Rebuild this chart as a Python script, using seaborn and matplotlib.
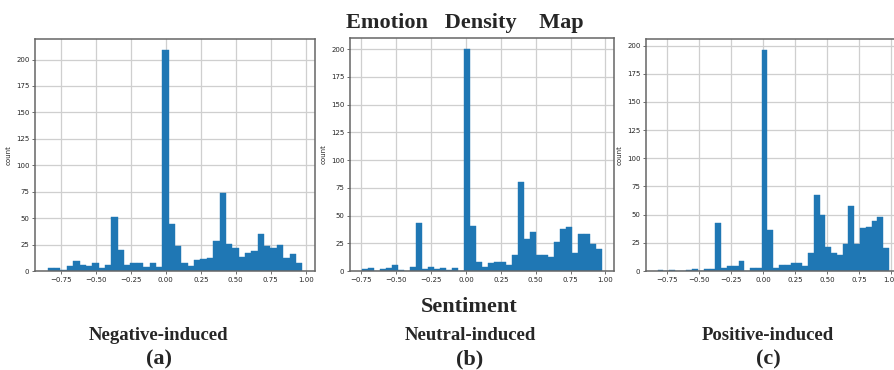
import numpy as np
import pandas as pd
import matplotlib
matplotlib.use("Agg")
import matplotlib.pyplot as plt
import seaborn as sns

# ---- data ----
panel_names = ["Negative-induced", "Neutral-induced", "Positive-induced"]
panel_tags = ["(a)", "(b)", "(c)"]

neg_range = (-0.845, 0.976)
neg_counts = [3, 3, 1, 5, 9, 6, 5, 8, 3, 6,
              51, 20, 6, 8, 8, 4, 8, 4, 209, 44,
              24, 8, 5, 10, 11, 12, 28, 74, 26, 22,
              13, 17, 19, 35, 24, 22, 25, 12, 16, 8]

neu_range = (-0.746, 0.976)
neu_counts = [2, 3, 0, 2, 3, 5, 1, 0, 4, 43,
              2, 4, 2, 3, 1, 3, 0, 200, 41, 8,
              4, 7, 8, 8, 5, 14, 80, 29, 35, 14,
              14, 13, 26, 38, 40, 16, 33, 33, 24, 20]

pos_range = (-0.823, 0.984)
pos_counts = [1, 0, 1, 0, 0, 1, 2, 0, 2, 2,
              43, 3, 4, 4, 9, 0, 3, 3, 196, 36,
              3, 5, 5, 7, 7, 4, 16, 67, 50, 21,
              16, 14, 24, 58, 24, 38, 39, 44, 48, 20]

x_ticks = [-0.75, -0.50, -0.25, 0.00, 0.25, 0.50, 0.75, 1.00]
y_ticks = [0, 25, 50, 75, 100, 125, 150, 175, 200]

ranges = [neg_range, neu_range, pos_range]
counts = [neg_counts, neu_counts, pos_counts]

# ---- style ----
sns.set_style("whitegrid", {
    "grid.color": "#cfcfcf",
    "axes.edgecolor": "#555555",
    "xtick.bottom": True,
    "ytick.left": True,
})
plt.rcParams["font.family"] = ["DejaVu Sans"]

W, H = 895, 370
fig = plt.figure(figsize=(W / 100, H / 100), dpi=100)

# axes boxes in pixels: left, top, right, bottom
boxes = [(35, 39, 315, 271), (350, 38, 614, 271), (646, 39, 900.5, 271)]

for (lo, hi), cnt, (l, t, r, b) in zip(ranges, counts, boxes):
    ax = fig.add_axes([l / W, 1 - b / H, (r - l) / W, (b - t) / H])
    n = len(cnt)
    edges = np.linspace(lo, hi, n + 1)
    df = pd.DataFrame({"sentiment": (edges[:-1] + edges[1:]) / 2,
                       "count": cnt})
    sns.histplot(data=df, x="sentiment", weights="count", bins=n,
                 binrange=(lo, hi), ax=ax, color="#1f77b4", alpha=1.0,
                 edgecolor="#1f77b4", linewidth=0.3)
    ax.set_xticks(x_ticks)
    ax.set_xticklabels([f"{v:.2f}".replace("-", "\u2212") for v in x_ticks])
    ax.set_yticks(y_ticks)
    ax.set_xlabel("")
    ax.set_ylabel("count", fontsize=5, labelpad=3)
    ax.tick_params(axis="both", labelsize=5, length=2, width=0.6,
                   color="#555555", pad=2)
    ax.grid(True, color="#cfcfcf", linewidth=0.9)
    ax.set_axisbelow(True)
    for sp in ax.spines.values():
        sp.set_linewidth(1.1)
        sp.set_color("#666666")
    ax.margins(x=0.05)
    ax.set_ylim(0, max(cnt) * 1.05)

serif = ["Liberation Serif", "DejaVu Serif"]
fig.text(464.5 / W, 1 - 28 / H, "Emotion   Density    Map", ha="center",
         va="baseline", fontsize=16, fontweight="bold", family=serif)
fig.text(469 / W, 1 - 311.5 / H, "Sentiment", ha="center", va="baseline",
         fontsize=16, fontweight="bold", family=serif)
for cx, name, tag in zip([159, 470, 768], panel_names, panel_tags):
    fig.text(cx / W, 1 - 340 / H, name, ha="center", va="baseline",
             fontsize=13.5, fontweight="bold", family=serif)
    fig.text(cx / W, 1 - 364 / H, tag, ha="center", va="baseline",
             fontsize=16, fontweight="bold", family=serif)

fig.savefig("out.png", dpi=100)
